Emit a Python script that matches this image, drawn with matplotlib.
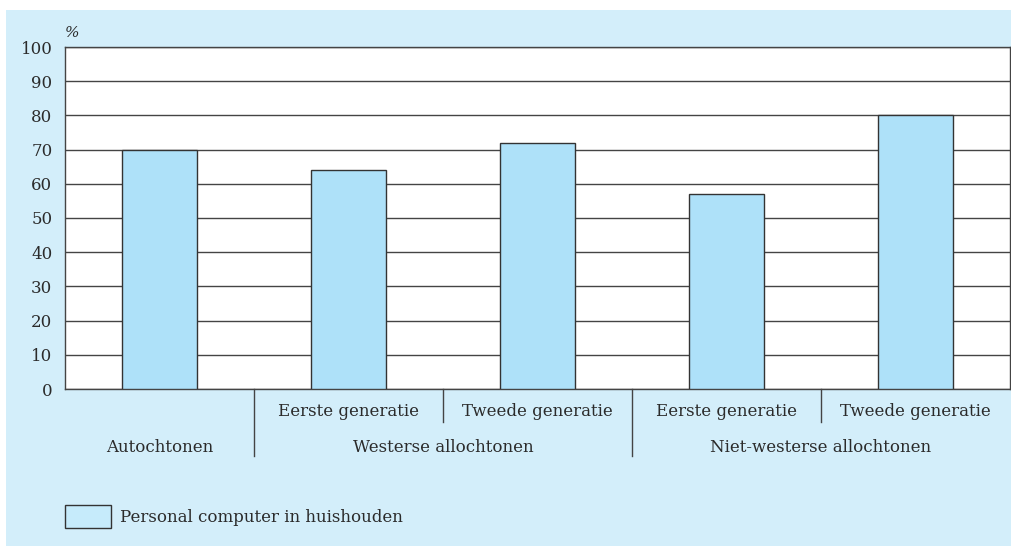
import matplotlib
matplotlib.use("Agg")
import matplotlib.pyplot as plt
from matplotlib.patches import Rectangle
from matplotlib.lines import Line2D

groups = ["Autochtonen", "Westerse allochtonen", "Niet-westerse allochtonen"]
subcats = ["", "Eerste generatie", "Tweede generatie", "Eerste generatie", "Tweede generatie"]
values = [70, 64, 72, 57, 80]
yticks = [0, 10, 20, 30, 40, 50, 60, 70, 80, 90, 100]
legend_label = "Personal computer in huishouden"

plt.rcParams['font.family'] = ['DejaVu Serif']
FS = 12
W, H = 1011, 547
fig = plt.figure(figsize=(W/100, H/100), dpi=100)
fig.patch.set_facecolor('white')
panel_col = '#d3eefa'
bar_col = '#aee1f9'
txt_col = '#2b2b2b'
line_col = '#444444'

fig.patches.append(Rectangle((6/W, 1/H), 1 - 6/W, (546-10)/H, transform=fig.transFigure,
                             facecolor=panel_col, edgecolor='none', zorder=-10))

ax = fig.add_axes([65/W, 1-389/H, (1010-65)/W, (389-47)/H])
ax.set_facecolor('white')
x = list(range(len(values)))
ax.bar(x, values, width=0.40, color=bar_col, edgecolor='#333333', linewidth=1.0, zorder=3)
ax.set_xlim(-0.5, len(values) - 0.5)
ax.set_ylim(0, 100)
ax.set_yticks(yticks)
ax.set_yticklabels([str(t) for t in yticks], fontsize=FS, color=txt_col)
ax.tick_params(axis='y', length=0, pad=9)
ax.set_xticks([])
ax.grid(axis='y', color=line_col, linewidth=1.0, zorder=1)
for s in ax.spines.values():
    s.set_color(line_col)
    s.set_linewidth(1.0)

ax.text(-0.5, 102, "%", fontsize=11, color=txt_col, style='italic', ha='left', va='bottom',
        transform=ax.transData, clip_on=False)

trans = ax.get_xaxis_transform()
hpx = 389 - 47
def yfrac(py):
    return -(py - 389) / hpx

for b, long in [(0.5, True), (1.5, False), (2.5, True), (3.5, False)]:
    y2 = yfrac(456) if long else yfrac(422)
    ax.add_line(Line2D([b, b], [0, y2], transform=trans, color=line_col, linewidth=1.0, clip_on=False))

for i, s in enumerate(subcats):
    if s:
        ax.text(i, yfrac(412), s, transform=trans, ha='center', va='center', fontsize=FS, color=txt_col)

group_centers = [0, 1.5, 3.5]
for c, g in zip(group_centers, groups):
    ax.text(c, yfrac(447), g, transform=trans, ha='center', va='center', fontsize=FS, color=txt_col)

fig.patches.append(Rectangle((65/W, 1-528/H), 46/W, 23/H, transform=fig.transFigure,
                             facecolor='#c6ebfb', edgecolor='#333333', linewidth=1.0))
fig.text(120/W, 1-517/H, legend_label, ha='left', va='center', fontsize=FS, color=txt_col)

fig.savefig("out.png", dpi=100, facecolor='white')
